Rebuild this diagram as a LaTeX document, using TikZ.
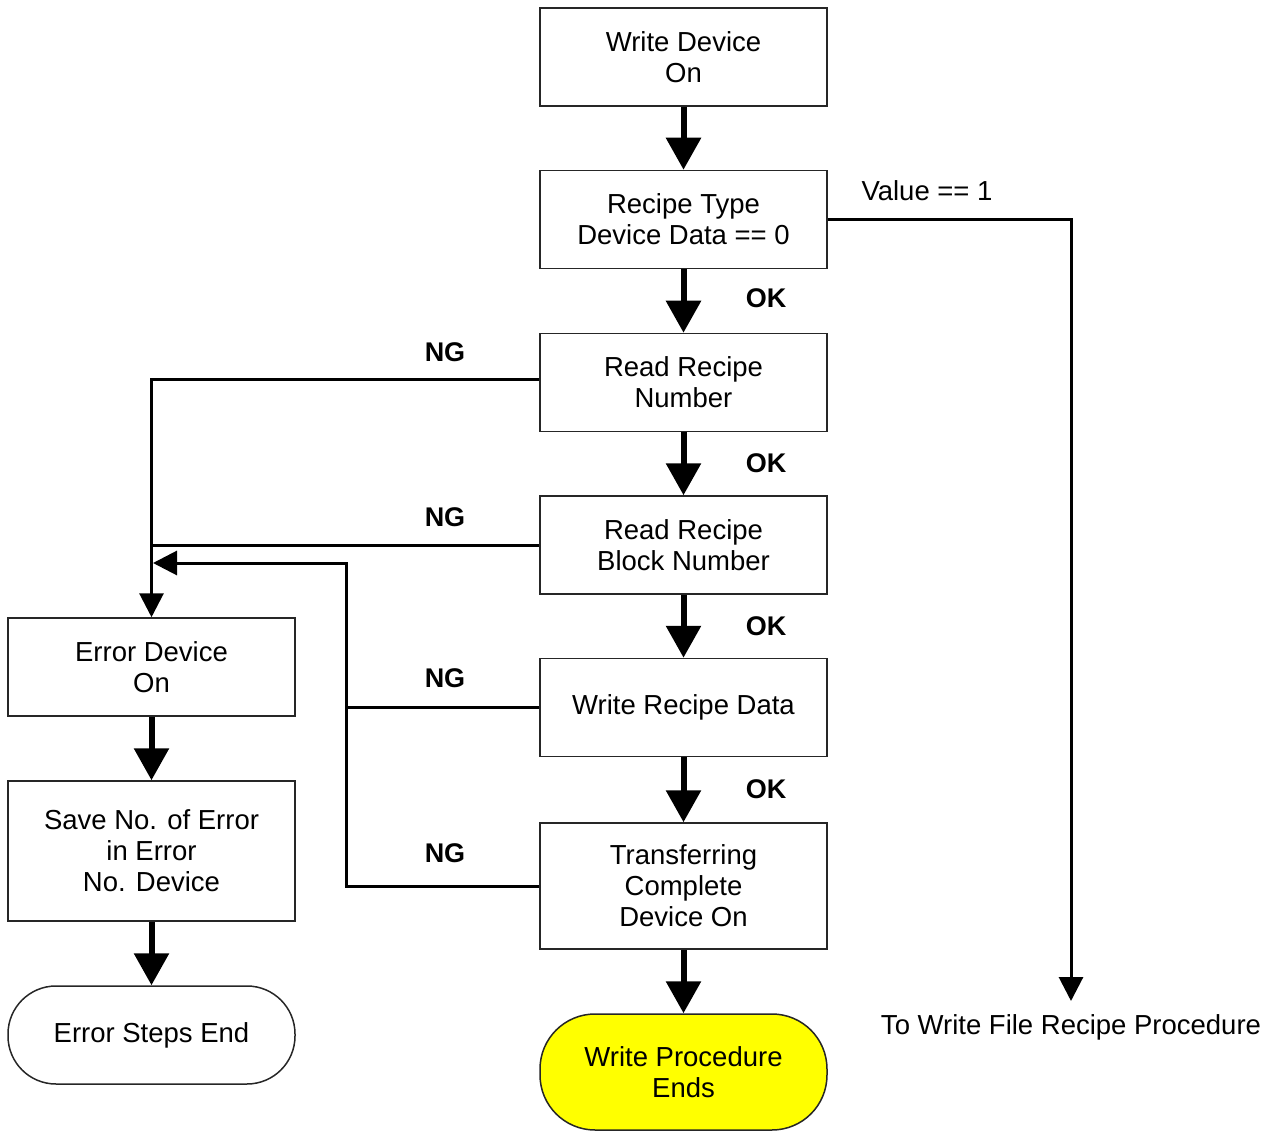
\documentclass[tikz,border=0pt]{standalone}
\usepackage{fontspec}
\setmainfont{Liberation Sans}
\usetikzlibrary{arrows.meta}
\definecolor{endyellow}{RGB}{255,255,0}
\begin{document}
\begin{tikzpicture}[x=1pt,y=-1pt,
 box/.style={draw=black!85, line width=1.5pt, minimum width=287pt, minimum height=98pt, inner sep=0pt, align=center, font=\fontsize{27.5}{31}\selectfont},
 term/.style={box, rounded corners=48pt},
 thickarrow/.style={line width=6pt, -{Triangle[width=34pt,length=32pt]}},
 thinarrow/.style={line width=3pt, -{Triangle[width=24pt,length=24pt]}},
 thinline/.style={line width=3pt},
 lbl/.style={font=\fontsize{27}{31}\selectfont\bfseries, inner sep=0pt},
 txt/.style={font=\fontsize{27.5}{31}\selectfont, inner sep=0pt}]
\useasboundingbox (0,0) rectangle (1274,1131);
% main column
\node[box] (wdo) at (683.5,57) {Write Device\\On};
\node[box] (rt) at (683.5,219.5) {Recipe Type\\Device Data == 0};
\node[box] (rrn) at (683.5,382.5) {Read Recipe\\Number};
\node[box] (rrb) at (683.5,545) {Read Recipe\\Block Number};
\node[box] (wrd) at (683.5,707.5) {Write Recipe Data};
\node[box, minimum height=126pt] (tcd) at (683.5,886) {Transferring\\Complete\\Device On};
\node[term, fill=endyellow, minimum height=116pt, rounded corners=55pt] (wpe) at (683.5,1072) {Write Procedure\\Ends};
% error column
\node[box] (edo) at (151.5,667) {Error Device\\On};
\node[box, minimum height=140pt] (sne) at (151.5,851) {Save No. of Error\\in Error\\No. Device};
\node[term] (ese) at (151.5,1035) {Error Steps End};
% thick arrows
\draw[thickarrow] (wdo) -- (rt);
\draw[thickarrow] (rt) -- (rrn);
\draw[thickarrow] (rrn) -- (rrb);
\draw[thickarrow] (rrb) -- (wrd);
\draw[thickarrow] (wrd) -- (tcd);
\draw[thickarrow] (tcd) -- (wpe);
\draw[thickarrow] (edo) -- (sne);
\draw[thickarrow] (sne) -- (ese);
% OK labels
\node[lbl] (ok1) at (766,298) {OK};
\node[lbl] (ok2) at (766,463) {OK};
\node[lbl] (ok3) at (766,626) {OK};
\node[lbl] (ok4) at (766,789) {OK};
% value branch
\node[txt] (val) at (927,191) {Value == 1};
\node[txt] (twt) at (1071,1027) {To Write File Recipe Procedure};
\coordinate (vc) at (1071,219.5);
\coordinate (vend) at (1071,1001);
\draw[thinarrow] (rt.east) -- (vc) -- (vend);
% NG branches
\node[lbl] (ng1) at (445,352) {NG};
\node[lbl] (ng2) at (445,517) {NG};
\node[lbl] (ng3) at (445,678) {NG};
\node[lbl] (ng4) at (445,853) {NG};
\coordinate (c1) at (151.5,380);
\coordinate (j1) at (151.5,545);
\coordinate (j2) at (153,563);
\coordinate (c3) at (346,563);
\coordinate (c4) at (346,707.5);
\coordinate (c5) at (346,886);
\draw[thinarrow] (rrn.west |- c1) -- (c1) -- (edo.north);
\draw[thinline] (rrb.west) -- (j1);
\draw[thinline, line width=2.5pt] (wrd.west) -- (c4);
\draw[thinarrow] (tcd.west) -- (c5) -- (c3) -- (j2);
\end{tikzpicture}
\end{document}
